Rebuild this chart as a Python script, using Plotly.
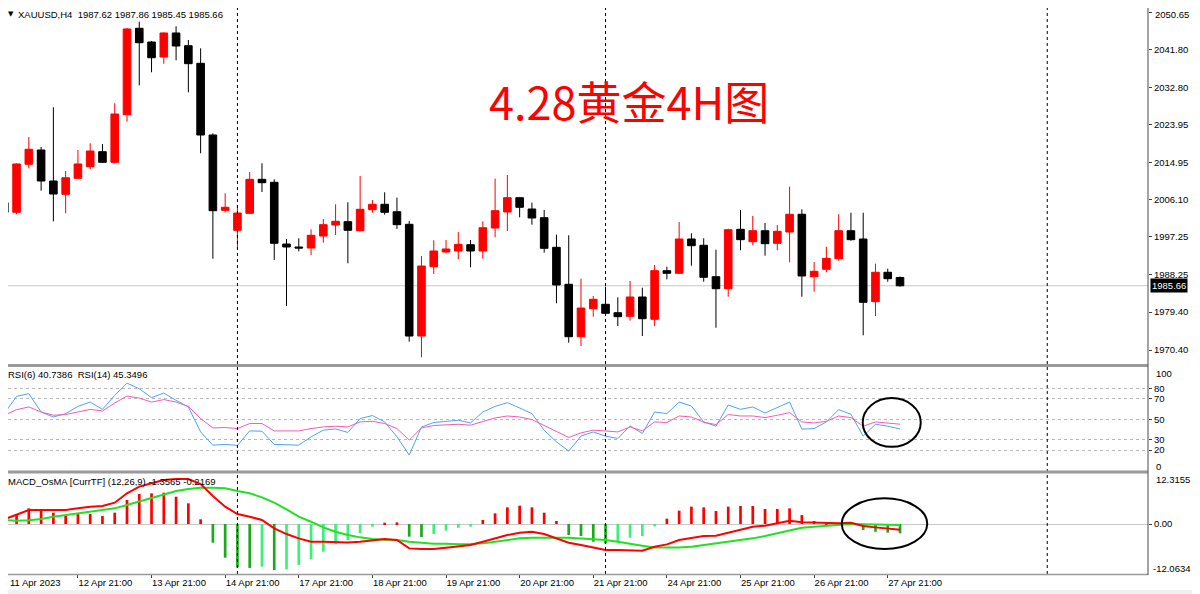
import plotly.graph_objects as go

# ---------------- data ----------------
opens = [2005.38, 2003.10, 2014.50, 2017.89, 2010.53, 2007.37, 2011.17, 2013.93, 2017.49, 2014.97,
         2026.27, 2046.78, 2043.53, 2039.97, 2045.67, 2042.65, 2038.47, 2021.45, 2003.57, 1998.83,
         2002.86, 2010.93, 2010.22, 1995.57, 1994.86, 1994.62, 1997.47, 2000.08, 2000.87, 1998.73,
         2003.72, 2005.00, 2003.24, 2000.25, 1973.73, 1990.19, 1993.68, 1993.91, 1995.41, 1993.91,
         1999.37, 2003.17, 2006.57, 2003.88, 2001.82, 1994.79, 1986.01, 1973.57, 1980.21, 1981.26,
         1979.26, 1978.41, 1982.99, 1977.70, 1989.24, 1988.62, 1996.76, 1995.27, 1987.81, 1984.96,
         1999.06, 1996.12, 1998.73, 1995.74, 1998.42, 2002.63, 1987.81, 1989.57, 1992.08, 1998.73,
         1996.76, 1981.88, 1988.86, 1987.62]
highs = [2006.57, 2014.73, 2020.98, 2018.60, 2028.03, 2012.90, 2017.89, 2019.48, 2019.31, 2028.98,
         2046.85, 2048.35, 2043.77, 2045.83, 2047.26, 2044.00, 2042.03, 2021.85, 2007.61, 2004.83,
         2012.67, 2014.73, 2010.93, 1996.76, 1996.93, 1999.06, 2001.51, 2005.00, 2005.47, 2011.72,
         2006.02, 2007.85, 2006.57, 2001.03, 1992.73, 1996.45, 1996.52, 1998.42, 1996.52, 2000.96,
         2011.08, 2011.95, 2006.73, 2005.38, 2003.65, 1997.78, 1997.64, 1987.34, 1983.23, 1985.44,
         1982.92, 1986.79, 1985.20, 1990.59, 1990.19, 2000.80, 1998.11, 1996.93, 1994.22, 1999.21,
         2003.65, 2002.22, 2000.56, 2000.08, 2009.18, 2003.81, 1991.30, 1994.93, 2002.63, 2003.00,
         2003.00, 1990.90, 1989.71, 1987.86]
lows = [2002.93, 2002.63, 2013.55, 2008.23, 2000.96, 2002.86, 2011.01, 2013.38, 2014.80, 2014.70,
        2024.61, 2033.25, 2036.34, 2038.38, 2039.18, 2031.59, 2017.11, 1992.08, 2003.10, 1994.70,
        2002.70, 2007.92, 1991.78, 1980.86, 1993.84, 1992.96, 1995.88, 1997.71, 1990.99, 1998.60,
        2003.00, 2002.53, 1999.14, 1972.38, 1968.68, 1988.45, 1993.37, 1991.94, 1990.04, 1992.08,
        1997.17, 1998.66, 2001.91, 2000.16, 1993.51, 1981.50, 1972.14, 1971.36, 1978.32, 1978.90,
        1976.11, 1977.37, 1973.73, 1976.11, 1987.19, 1988.45, 1990.42, 1986.62, 1975.70, 1983.06,
        1994.08, 1995.27, 1992.80, 1994.08, 1991.23, 1983.06, 1984.25, 1988.86, 1991.61, 1996.36,
        1973.90, 1978.48, 1986.62, 1985.45]
closes = [2003.10, 2014.57, 2018.06, 2010.53, 2007.44, 2011.31, 2014.57, 2017.65, 2014.97, 2026.44,
          2046.62, 2043.36, 2039.80, 2045.67, 2042.58, 2038.38, 2021.45, 2003.48, 2004.29, 2002.93,
          2010.93, 2010.13, 1995.74, 1994.86, 1994.62, 1997.64, 2000.16, 2000.96, 1998.83, 2003.81,
          2005.00, 2003.10, 2000.16, 1973.73, 1990.35, 1993.91, 1994.39, 1995.50, 1993.91, 1999.44,
          2003.48, 2006.57, 2004.29, 2001.75, 1994.55, 1985.84, 1973.57, 1980.38, 1982.45, 1979.12,
          1978.32, 1982.99, 1977.84, 1989.24, 1988.62, 1996.76, 1995.17, 1987.67, 1984.96, 1998.97,
          1996.60, 1998.73, 1995.65, 1998.59, 2002.63, 1987.98, 1989.09, 1992.18, 1998.73, 1996.60,
          1981.73, 1988.86, 1987.34, 1985.66]

rsi6 = [55.7, 72.6, 75.2, 57.3, 52.4, 55.7, 62.8, 67.0, 59.9, 73.5,
        85.5, 80.0, 71.3, 75.8, 68.7, 62.2, 37.8, 24.9, 25.6, 24.6,
        38.8, 38.5, 25.6, 24.9, 24.9, 33.0, 39.5, 40.8, 37.3, 50.9,
        53.8, 47.6, 33.0, 15.2, 42.7, 47.0, 48.0, 49.2, 46.6, 57.3,
        62.8, 66.4, 61.2, 55.7, 39.5, 28.1, 19.1, 33.7, 37.8, 33.7,
        31.4, 43.7, 36.3, 57.3, 55.7, 67.0, 63.1, 47.6, 43.4, 64.1,
        59.9, 62.2, 56.3, 61.6, 67.0, 40.5, 41.1, 47.6, 59.6, 55.1,
        33.7, 45.3, 43.4, 40.7386]
rsi14 = [54.1, 59.6, 62.2, 57.3, 54.1, 54.8, 57.3, 59.9, 58.3, 66.1,
         72.9, 70.9, 67.0, 69.4, 67.0, 62.8, 50.9, 41.7, 42.1, 41.1,
         46.0, 46.0, 38.8, 38.8, 38.8, 41.1, 42.7, 43.4, 42.7, 47.6,
         48.2, 46.0, 41.1, 29.8, 41.7, 44.1, 44.4, 45.3, 44.4, 48.2,
         51.5, 53.4, 52.4, 49.9, 44.1, 37.8, 32.4, 36.9, 39.5, 38.8,
         37.8, 42.7, 38.8, 47.6, 47.0, 53.4, 52.4, 47.3, 45.0, 54.8,
         53.4, 53.4, 51.8, 54.1, 56.7, 47.6, 46.6, 48.2, 53.4, 51.8,
         43.4, 47.6, 46.6, 45.3496]

macd_line = [1.13, 2.17, 3.38, 3.38, 3.38, 3.38, 3.78, 4.19, 4.35, 5.15,
             7.41, 9.02, 9.82, 10.63, 10.87, 10.87, 9.66, 6.76, 4.19, 2.42,
             1.77, 0.97, -1.05, -2.42, -3.46, -4.27, -4.27, -4.43, -4.43, -4.27,
             -3.86, -3.62, -3.86, -5.88, -6.04, -6.04, -5.72, -5.31, -5.07, -4.27,
             -3.46, -2.66, -2.09, -1.86, -2.42, -3.46, -4.51, -5.07, -5.72, -6.28,
             -6.28, -6.44, -6.44, -5.48, -4.91, -3.86, -3.46, -2.90, -2.82, -2.09,
             -1.45, -0.64, -0.40, 0.16, 0.80, 0.45, 0.32, 0.16, 0.16, 0.32,
             -0.48, -0.81, -1.05, -1.3565]
signal_line = [0.97, 0.81, 0.90, 1.21, 1.77, 2.17, 2.58, 2.98, 3.38, 3.78,
               4.59, 5.39, 6.20, 7.17, 7.97, 8.45, 8.78, 8.78, 8.62, 7.97,
               7.41, 6.44, 5.15, 3.54, 1.77, 0.56, -0.81, -1.86, -2.66, -3.22,
               -3.62, -3.78, -3.86, -4.27, -4.59, -4.75, -4.75, -4.91, -4.83, -4.67,
               -4.27, -3.86, -3.46, -3.30, -3.22, -3.30, -3.30, -3.46, -3.62, -3.86,
               -4.27, -4.83, -5.23, -5.64, -5.72, -5.64, -5.48, -5.07, -4.83, -4.43,
               -3.86, -3.46, -2.90, -2.25, -1.61, -0.89, -0.64, -0.40, -0.16, 0.00,
               -0.05, -0.08, -0.16, -0.2169]
osma = [0.56, 2.17, 3.78, 3.62, 2.74, 2.17, 2.58, 2.42, 1.93, 2.74,
        5.80, 7.25, 7.41, 7.57, 6.60, 4.99, 1.13, -4.51, -8.13, -10.47,
        -10.6, -10.3, -11.1, -10.95, -9.9, -8.53, -6.68, -4.91, -3.86, -2.25,
        -0.64, 0.32, 0.40, -3.06, -3.15, -2.42, -1.61, -0.89, -0.64, 0.97,
        2.58, 4.03, 4.43, 4.03, 2.74, 0.73, -2.66, -2.90, -4.27, -4.67,
        -4.27, -3.30, -2.90, -0.56, 1.29, 3.22, 4.19, 4.03, 3.14, 4.19,
        4.35, 4.35, 3.62, 3.62, 3.78, 2.17, 0.73, 0.40, 0.24, 0.08,
        -1.45, -1.86, -2.09, -2.25]

date_labels = ["11 Apr 2023", "12 Apr 21:00", "13 Apr 21:00", "14 Apr 21:00", "17 Apr 21:00",
               "18 Apr 21:00", "19 Apr 21:00", "20 Apr 21:00", "21 Apr 21:00", "24 Apr 21:00",
               "25 Apr 21:00", "26 Apr 21:00", "27 Apr 21:00"]
date_label_bars = [0, 6, 12, 18, 24, 30, 36, 42, 48, 54, 60, 66, 72]
separator_bars = [19, 49, 85]
price_ticks = [2050.65, 2041.80, 2032.80, 2023.95, 2014.95, 2006.10, 1997.25, 1988.25, 1979.40, 1970.40]
rsi_ticks = [80, 70, 50, 30, 20]
last_price = 1985.66
rsi_max, rsi_min = 100, 0
macd_max, macd_min = 12.3155, -12.0634

bars = list(range(len(opens)))

# ---------------- layout helpers ----------------
# The page body adds an 8 px offset, so the figure is 8 px smaller and all
# reference pixel positions (ref_x, ref_y) are converted accordingly.
OFF = 8
W, H = 1200 - OFF, 594 - OFF
L, R, T, B = 0, 52, 0, 20
PW, PH = W - L - R, H - T - B


def fx(ref_x):
    return (ref_x - OFF - L) / PW


def fy(ref_y):
    return (H - B - (ref_y - OFF)) / PH


BAR0_X, BAR_STEP = 4.3, 12.27          # reference pixel centre of bar 0 and bar spacing
PRICE_AT_Y0, PRICE_PER_PX = 2053.5, 0.2374


def price_at(ref_y):
    return PRICE_AT_Y0 - PRICE_PER_PX * ref_y


FONT = "Tahoma, 'Liberation Sans', Arial, sans-serif"
FS = 9.5
RED = "#FF0000"

hist_colors = []
for i, v in enumerate(osma):
    if v >= 0:
        hist_colors.append(RED)
    elif i > 0 and v < osma[i - 1]:
        hist_colors.append("#1FA81F")
    else:
        hist_colors.append("#3CF07A")

fig = go.Figure()
fig.add_trace(go.Candlestick(
    x=bars, open=opens, high=highs, low=lows, close=closes,
    xaxis="x", yaxis="y", whiskerwidth=0, hoverinfo="skip",
    increasing=dict(line=dict(color=RED, width=1), fillcolor=RED),
    decreasing=dict(line=dict(color="#000000", width=1), fillcolor="#000000"),
))
fig.add_trace(go.Scatter(x=bars, y=rsi6, mode="lines", xaxis="x2", yaxis="y2",
                         line=dict(color="#4FA3F5", width=1), hoverinfo="skip"))
fig.add_trace(go.Scatter(x=bars, y=rsi14, mode="lines", xaxis="x2", yaxis="y2",
                         line=dict(color="#F25CB4", width=1), hoverinfo="skip"))
fig.add_trace(go.Bar(x=bars, y=osma, xaxis="x3", yaxis="y3", width=0.22,
                     marker=dict(color=hist_colors, line=dict(width=0)), hoverinfo="skip"))
fig.add_trace(go.Scatter(x=bars, y=signal_line, mode="lines", xaxis="x3", yaxis="y3",
                         line=dict(color="#22E022", width=2), hoverinfo="skip"))
fig.add_trace(go.Scatter(x=bars, y=macd_line, mode="lines", xaxis="x3", yaxis="y3",
                         line=dict(color=RED, width=2), hoverinfo="skip"))

x_range = [(OFF + L - BAR0_X) / BAR_STEP, (1148 - BAR0_X) / BAR_STEP]
tickfont = dict(family=FONT, size=FS, color="#000000")
common_x = dict(range=x_range, showgrid=False, zeroline=False, fixedrange=True, domain=[0, 1])

shapes = []
for s in separator_bars:
    shapes.append(dict(type="line", xref="x", yref="paper", x0=s, x1=s, y0=0, y1=1,
                       line=dict(color="#000000", width=1, dash="dot")))
shapes.append(dict(type="line", xref="paper", yref="y", x0=0, x1=1, y0=last_price, y1=last_price,
                   line=dict(color="#C8C8C8", width=1), layer="below"))
BORDER = "#9A9A9A"
shapes += [
    dict(type="line", xref="paper", yref="paper", x0=0, x1=1, y0=fy(365.5), y1=fy(365.5),
         line=dict(color=BORDER, width=3)),
    dict(type="line", xref="paper", yref="paper", x0=0, x1=1, y0=fy(472), y1=fy(472),
         line=dict(color=BORDER, width=3)),
    dict(type="line", xref="paper", yref="paper", x0=0, x1=1, y0=fy(574.5), y1=fy(574.5),
         line=dict(color=BORDER, width=1.5)),
    dict(type="line", xref="paper", yref="paper", x0=1, x1=1, y0=fy(8), y1=fy(575),
         line=dict(color="#4A4A4A", width=1)),
    dict(type="rect", xref="paper", yref="paper", x0=fx(8), x1=fx(1200), y0=fy(590), y1=fy(594),
         line=dict(width=0), fillcolor="#F0F0F0"),
    dict(type="rect", xref="paper", yref="paper", x0=fx(1196), x1=fx(1200), y0=fy(8), y1=fy(594),
         line=dict(width=0), fillcolor="#F0F0F0"),
]
shapes.append(dict(type="circle", xref="x2", yref="y2", x0=69.96, x1=74.69, y0=23.2, y1=70.9,
                   line=dict(color="#000000", width=2)))
shapes.append(dict(type="circle", xref="x3", yref="y3", x0=68.25, x1=75.22, y0=-6.04, y1=6.2,
                   line=dict(color="#000000", width=2)))


def text_ann(text, ref_x, ref_y, xanchor="left", yanchor="middle", size=FS, color="#000000", family=FONT, **kw):
    return dict(text=text, xref="paper", yref="paper", x=fx(ref_x), y=fy(ref_y), xanchor=xanchor,
                yanchor=yanchor, showarrow=False, font=dict(family=family, size=size, color=color), **kw)


# the topmost price label would touch the page edge: draw it as text nudged down
price_ticktext = [f"{v:.2f}" for v in price_ticks]
top_label = price_ticktext[0]
price_ticktext[0] = ""

annotations = [
    text_ann("▼", 11, 14.5, xanchor="center", size=7, family="DejaVu Sans"),
    text_ann("XAUUSD,H4  1987.62 1987.86 1985.45 1985.66", 16, 14.5),
    text_ann("4.28黄金4H图", 629, 101, xanchor="center", size=45, color=RED,
             family="'Noto Sans CJK SC', 'Noto Sans', sans-serif"),
    text_ann("RSI(6) 40.7386  RSI(14) 45.3496", 6, 375),
    text_ann("MACD_OsMA [CurrTF] (12,26,9) -1.3565 -0.2169", 6, 481.5),
    text_ann(str(rsi_max), 1154, 373.5),
    text_ann(str(rsi_min), 1154, 466),
    text_ann(f"{macd_max:.4f}", 1154, 479.5),
    text_ann(f"{macd_min:.4f}", 1151, 568.5),
    text_ann(date_labels[0], 8, 583),
    dict(text=top_label, xref="paper", yref="y", x=fx(1153), y=price_ticks[0], yshift=-2.5,
         xanchor="left", yanchor="middle", showarrow=False, font=dict(family=FONT, size=FS, color="#000000")),
    dict(text=f"{last_price:.2f}", xref="paper", yref="y", x=fx(1150), y=last_price,
         xanchor="left", yanchor="middle", showarrow=False, bgcolor="#000000", borderpad=1,
         font=dict(family=FONT, size=FS, color="#FFFFFF")),
]

fig.update_layout(
    width=W, height=H, margin=dict(l=L, r=R, t=T, b=B, pad=0, autoexpand=False),
    paper_bgcolor="#FFFFFF", plot_bgcolor="#FFFFFF", showlegend=False,
    boxgap=0.38, boxgroupgap=0, hovermode=False,
    xaxis=dict(anchor="y", showticklabels=False, ticks="", rangeslider=dict(visible=False), **common_x),
    xaxis2=dict(anchor="y2", showticklabels=False, ticks="", **common_x),
    xaxis3=dict(anchor="y3", tickmode="array", tickvals=date_label_bars, ticktext=date_labels,
                ticks="outside", ticklen=3, tickcolor="#404040", ticklabelposition="outside right",
                ticklabeloverflow="allow", tickfont=tickfont, **common_x),
    yaxis=dict(anchor="x", side="right", domain=[fy(364), 1], range=[price_at(364), price_at(OFF)],
               tickmode="array", tickvals=price_ticks, ticktext=price_ticktext,
               ticks="outside", ticklen=3, tickcolor="#404040", showgrid=False, zeroline=False,
               ticklabeloverflow="allow", tickfont=tickfont, fixedrange=True),
    yaxis2=dict(anchor="x2", side="right", domain=[fy(470.6), fy(368.3)], range=[rsi_min, rsi_max],
                tickmode="array", tickvals=rsi_ticks, ticks="outside", ticklen=3, tickcolor="#404040",
                showgrid=True, gridcolor="#B8B8B8", griddash="dot", gridwidth=1, zeroline=False,
                tickfont=tickfont, fixedrange=True),
    yaxis3=dict(anchor="x3", side="right", domain=[0, fy(473)], range=[macd_min, macd_max],
                tickmode="array", tickvals=[0], ticktext=["0.00"], ticks="outside", ticklen=3,
                tickcolor="#404040", showgrid=True, gridcolor="#C8C8C8", gridwidth=1, zeroline=False,
                tickfont=tickfont, fixedrange=True),
    shapes=shapes, annotations=annotations,
)

fig.write_html("out.html")
